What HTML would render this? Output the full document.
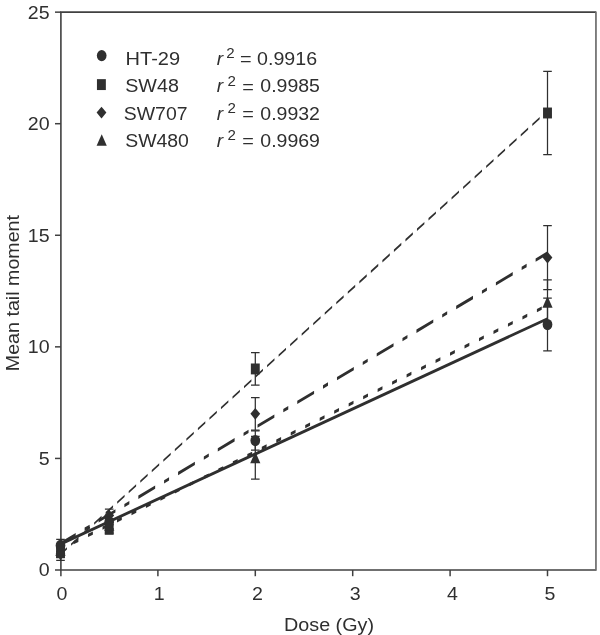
<!DOCTYPE html>
<html lang="en"><head><meta charset="utf-8"><title>Mean tail moment vs dose</title>
<style>html,body{margin:0;padding:0;background:#fff}body{width:600px;height:635px;overflow:hidden}svg{display:block}text{font-family:"Liberation Sans",Arial,Helvetica,sans-serif;fill:#2f2f2f}</style></head><body>
<svg width="600" height="635" viewBox="0 0 600 635">
<rect width="600" height="635" fill="#fff"/>
<g fill="none" stroke="#404040" stroke-width="1.6">
<path d="M60.10 12.15 H595.95"/>
<path d="M60.90 12.15 V570.00"/>
<path d="M60.10 570.00 H595.95"/>
</g>
<path d="M595.95 11.40 V570.75" fill="none" stroke="#6c6c6c" stroke-width="1.7"/>
<g fill="none" stroke="#404040" stroke-width="1.5">
<path d="M55.00 570.00 H60.90"/>
<path d="M55.00 458.43 H60.90"/>
<path d="M55.00 346.85 H60.90"/>
<path d="M55.00 235.27 H60.90"/>
<path d="M55.00 123.70 H60.90"/>
<path d="M55.00 12.15 H60.90"/>
<path d="M60.90 570.00 V576.20"/>
<path d="M157.90 570.00 V576.20"/>
<path d="M255.30 570.00 V576.20"/>
<path d="M352.70 570.00 V576.20"/>
<path d="M450.10 570.00 V576.20"/>
<path d="M547.50 570.00 V576.20"/>
</g>
<text x="49.60" y="576.40" font-size="19.20" text-anchor="end" textLength="10.90" lengthAdjust="spacingAndGlyphs">0</text>
<text x="49.60" y="464.82" font-size="19.20" text-anchor="end" textLength="10.90" lengthAdjust="spacingAndGlyphs">5</text>
<text x="49.60" y="353.25" font-size="19.20" text-anchor="end" textLength="21.80" lengthAdjust="spacingAndGlyphs">10</text>
<text x="49.60" y="241.67" font-size="19.20" text-anchor="end" textLength="21.80" lengthAdjust="spacingAndGlyphs">15</text>
<text x="49.60" y="130.10" font-size="19.20" text-anchor="end" textLength="21.80" lengthAdjust="spacingAndGlyphs">20</text>
<text x="49.60" y="18.55" font-size="19.20" text-anchor="end" textLength="21.80" lengthAdjust="spacingAndGlyphs">25</text>
<text x="62.00" y="600.30" font-size="19.20" text-anchor="middle" textLength="10.90" lengthAdjust="spacingAndGlyphs">0</text>
<text x="159.20" y="600.30" font-size="19.20" text-anchor="middle" textLength="10.90" lengthAdjust="spacingAndGlyphs">1</text>
<text x="257.50" y="600.30" font-size="19.20" text-anchor="middle" textLength="10.90" lengthAdjust="spacingAndGlyphs">2</text>
<text x="355.10" y="600.30" font-size="19.20" text-anchor="middle" textLength="10.90" lengthAdjust="spacingAndGlyphs">3</text>
<text x="452.40" y="600.30" font-size="19.20" text-anchor="middle" textLength="10.90" lengthAdjust="spacingAndGlyphs">4</text>
<text x="550.00" y="600.30" font-size="19.20" text-anchor="middle" textLength="10.90" lengthAdjust="spacingAndGlyphs">5</text>
<text x="329.00" y="630.60" font-size="19.20" text-anchor="middle" textLength="90.00" lengthAdjust="spacingAndGlyphs">Dose (Gy)</text>
<text transform="translate(18.7 293.1) rotate(-90)" font-size="19.20" text-anchor="middle" textLength="156.2" lengthAdjust="spacingAndGlyphs">Mean tail moment</text>
<line x1="60.50" y1="0" x2="547.50" y2="0" transform="matrix(1 -0.91001 0 1 0 609.212)" stroke="#2f2f2f" stroke-width="2.30" stroke-dasharray="7.40 4.13" stroke-dashoffset="0.96"/>
<line x1="60.50" y1="0" x2="547.50" y2="0" transform="matrix(1 -0.59682 0 1 0 579.776)" stroke="#2f2f2f" stroke-width="3.32" stroke-dasharray="16.83 8.93 4.98 8.99" stroke-dashoffset="1.63"/>
<line x1="60.50" y1="0" x2="547.50" y2="0" transform="matrix(1 -0.50106 0 1 0 579.561)" stroke="#2f2f2f" stroke-width="3.19" stroke-dasharray="4.83 9.65" stroke-dashoffset="1.43"/>
<line x1="60.50" y1="0" x2="547.50" y2="0" transform="matrix(1 -0.46280 0 1 0 572.114)" stroke="#2f2f2f" stroke-width="3.14"/>
<path d="M60.50 539.32 V551.59 M56.20 539.32 H64.80 M56.20 551.59 H64.80" fill="none" stroke="#2f2f2f" stroke-width="1.25"/>
<path d="M109.20 515.33 V528.72 M104.90 515.33 H113.50 M104.90 528.72 H113.50" fill="none" stroke="#2f2f2f" stroke-width="1.25"/>
<path d="M255.30 430.98 V450.17 M251.00 430.98 H259.60 M251.00 450.17 H259.60" fill="none" stroke="#2f2f2f" stroke-width="1.25"/>
<path d="M547.50 298.20 V350.87 M543.20 298.20 H551.80 M543.20 350.87 H551.80" fill="none" stroke="#2f2f2f" stroke-width="1.25"/>
<path d="M60.50 546.46 V557.62 M56.20 546.46 H64.80 M56.20 557.62 H64.80" fill="none" stroke="#2f2f2f" stroke-width="1.25"/>
<path d="M109.20 524.81 V533.74 M104.90 524.81 H113.50 M104.90 533.74 H113.50" fill="none" stroke="#2f2f2f" stroke-width="1.25"/>
<path d="M255.30 352.65 V385.23 M251.00 352.65 H259.60 M251.00 385.23 H259.60" fill="none" stroke="#2f2f2f" stroke-width="1.25"/>
<path d="M547.50 71.26 V154.72 M543.20 71.26 H551.80 M543.20 154.72 H551.80" fill="none" stroke="#2f2f2f" stroke-width="1.25"/>
<path d="M60.50 547.80 V560.29 M56.20 547.80 H64.80 M56.20 560.29 H64.80" fill="none" stroke="#2f2f2f" stroke-width="1.25"/>
<path d="M109.20 509.08 V522.02 M104.90 509.08 H113.50 M104.90 522.02 H113.50" fill="none" stroke="#2f2f2f" stroke-width="1.25"/>
<path d="M255.30 397.51 V430.08 M251.00 397.51 H259.60 M251.00 430.08 H259.60" fill="none" stroke="#2f2f2f" stroke-width="1.25"/>
<path d="M547.50 225.68 V289.50 M543.20 225.68 H551.80 M543.20 289.50 H551.80" fill="none" stroke="#2f2f2f" stroke-width="1.25"/>
<path d="M60.50 543.89 V557.28 M56.20 543.89 H64.80 M56.20 557.28 H64.80" fill="none" stroke="#2f2f2f" stroke-width="1.25"/>
<path d="M109.20 518.68 V532.06 M104.90 518.68 H113.50 M104.90 532.06 H113.50" fill="none" stroke="#2f2f2f" stroke-width="1.25"/>
<path d="M255.30 436.44 V479.07 M251.00 436.44 H259.60 M251.00 479.07 H259.60" fill="none" stroke="#2f2f2f" stroke-width="1.25"/>
<path d="M547.50 279.90 V324.53 M543.20 279.90 H551.80 M543.20 324.53 H551.80" fill="none" stroke="#2f2f2f" stroke-width="1.25"/>
<rect x="56.05" y="546.59" width="8.9" height="10.9" fill="#2f2f2f"/>
<rect x="104.75" y="523.83" width="8.9" height="10.9" fill="#2f2f2f"/>
<rect x="250.85" y="363.49" width="8.9" height="10.9" fill="#2f2f2f"/>
<rect x="543.05" y="107.54" width="8.9" height="10.9" fill="#2f2f2f"/>
<path d="M60.50 544.59 L65.60 556.09 L55.40 556.09Z" fill="#2f2f2f"/>
<path d="M109.20 519.37 L114.30 530.87 L104.10 530.87Z" fill="#2f2f2f"/>
<path d="M255.30 451.76 L260.40 463.26 L250.20 463.26Z" fill="#2f2f2f"/>
<path d="M547.50 296.22 L552.60 307.72 L542.40 307.72Z" fill="#2f2f2f"/>
<path d="M60.50 548.14 L65.40 554.04 L60.50 559.94 L55.60 554.04Z" fill="#2f2f2f"/>
<path d="M109.20 509.65 L114.10 515.55 L109.20 521.45 L104.30 515.55Z" fill="#2f2f2f"/>
<path d="M255.30 407.89 L260.20 413.79 L255.30 419.69 L250.40 413.79Z" fill="#2f2f2f"/>
<path d="M547.50 251.69 L552.40 257.59 L547.50 263.49 L542.60 257.59Z" fill="#2f2f2f"/>
<ellipse cx="60.50" cy="545.45" rx="4.85" ry="5.6" fill="#2f2f2f"/>
<ellipse cx="109.20" cy="522.02" rx="4.85" ry="5.6" fill="#2f2f2f"/>
<ellipse cx="255.30" cy="440.57" rx="4.85" ry="5.6" fill="#2f2f2f"/>
<ellipse cx="547.50" cy="324.53" rx="4.85" ry="5.6" fill="#2f2f2f"/>
<ellipse cx="101.70" cy="55.60" rx="4.85" ry="5.6" fill="#2f2f2f"/>
<rect x="96.95" y="79.15" width="8.9" height="10.9" fill="#2f2f2f"/>
<path d="M101.50 106.70 L106.40 112.60 L101.50 118.50 L96.60 112.60Z" fill="#2f2f2f"/>
<path d="M101.70 134.30 L106.80 145.80 L96.60 145.80Z" fill="#2f2f2f"/>
<text x="125.60" y="64.60" font-size="19.20" text-anchor="start" textLength="54.50" lengthAdjust="spacingAndGlyphs">HT-29</text>
<text x="216.7" y="64.60" font-size="19.20" font-style="italic">r</text>
<text x="226.15" y="57.90" font-size="14" textLength="8.4" lengthAdjust="spacingAndGlyphs">2</text>
<text x="240.10" y="65.00" font-size="19.20" text-anchor="start" textLength="11.60" lengthAdjust="spacingAndGlyphs">=</text>
<text x="257.10" y="64.60" font-size="19.20" text-anchor="start" textLength="60.00" lengthAdjust="spacingAndGlyphs">0.9916</text>
<text x="125.20" y="92.20" font-size="19.20" text-anchor="start" textLength="53.70" lengthAdjust="spacingAndGlyphs">SW48</text>
<text x="216.7" y="92.20" font-size="19.20" font-style="italic">r</text>
<text x="227.40" y="85.50" font-size="14" textLength="8.4" lengthAdjust="spacingAndGlyphs">2</text>
<text x="242.20" y="92.60" font-size="19.20" text-anchor="start" textLength="11.60" lengthAdjust="spacingAndGlyphs">=</text>
<text x="260.30" y="92.20" font-size="19.20" text-anchor="start" textLength="59.60" lengthAdjust="spacingAndGlyphs">0.9985</text>
<text x="123.80" y="119.60" font-size="19.20" text-anchor="start" textLength="63.70" lengthAdjust="spacingAndGlyphs">SW707</text>
<text x="216.7" y="119.60" font-size="19.20" font-style="italic">r</text>
<text x="227.40" y="112.90" font-size="14" textLength="8.4" lengthAdjust="spacingAndGlyphs">2</text>
<text x="242.20" y="120.00" font-size="19.20" text-anchor="start" textLength="11.60" lengthAdjust="spacingAndGlyphs">=</text>
<text x="260.30" y="119.60" font-size="19.20" text-anchor="start" textLength="59.60" lengthAdjust="spacingAndGlyphs">0.9932</text>
<text x="125.20" y="146.90" font-size="19.20" text-anchor="start" textLength="63.70" lengthAdjust="spacingAndGlyphs">SW480</text>
<text x="216.7" y="146.90" font-size="19.20" font-style="italic">r</text>
<text x="227.40" y="140.20" font-size="14" textLength="8.4" lengthAdjust="spacingAndGlyphs">2</text>
<text x="242.20" y="147.30" font-size="19.20" text-anchor="start" textLength="11.60" lengthAdjust="spacingAndGlyphs">=</text>
<text x="260.30" y="146.90" font-size="19.20" text-anchor="start" textLength="59.60" lengthAdjust="spacingAndGlyphs">0.9969</text>
</svg></body></html>
